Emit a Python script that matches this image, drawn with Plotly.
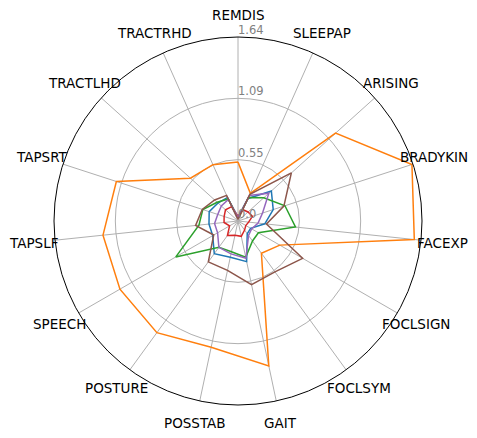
import math
import plotly.graph_objects as go

categories = ["REMDIS", "SLEEPAP", "ARISING", "BRADYKIN", "FACEXP", "FOCLSIGN",
              "FOCLSYM", "GAIT", "POSSTAB", "POSTURE", "SPEECH", "TAPSLF",
              "TAPSRT", "TRACTLHD", "TRACTRHD"]

blue = [0.03, 0.22, 0.40, 0.33, 0.24, 0.13, 0.14, 0.37, 0.33, 0.36, 0.26, 0.26, 0.27, 0.24, 0.23]
orange = [0.525, 0.27, 1.17, 1.63, 1.58, 0.43, 0.355, 1.32, 1.15, 1.23, 1.215, 1.21, 1.14, 0.57, 0.55]
green = [0.03, 0.23, 0.31, 0.44, 0.515, 0.21, 0.22, 0.33, 0.28, 0.29, 0.64, 0.35, 0.33, 0.25, 0.215]
red = [0.04, 0.11, 0.12, 0.135, 0.095, 0.08, 0.10, 0.14, 0.13, 0.16, 0.087, 0.125, 0.13, 0.15, 0.14]
purple = [0.03, 0.25, 0.37, 0.23, 0.18, 0.14, 0.16, 0.34, 0.30, 0.29, 0.21, 0.21, 0.19, 0.20, 0.21]
brown = [0.015, 0.26, 0.64, 0.43, 0.255, 0.665, 0.56, 0.58, 0.45, 0.45, 0.25, 0.38, 0.335, 0.28, 0.25]

series = [blue, orange, green, red, purple, brown]
colors = ["#1f77b4", "#ff7f0e", "#2ca02c", "#d62728", "#9467bd", "#8c564b"]

r_max = 1.64
tick_vals = [0.0, 0.5467, 1.0933, 1.64]
tick_text = ["0.0", "0.55", "1.09", "1.64"]

fig = go.Figure()
for vals, col in zip(series, colors):
    fig.add_trace(go.Scatterpolar(
        r=vals + vals[:1],
        theta=categories + categories[:1],
        mode="lines",
        line=dict(color=col, width=1.5),
        showlegend=False,
        hoverinfo="skip",
    ))

# radial tick labels, above-right of each ring along the first spoke
fig.add_trace(go.Scatterpolar(
    r=tick_vals,
    theta=[categories[0]] * len(tick_vals),
    mode="text",
    text=tick_text,
    textposition="top right",
    textfont=dict(size=11.5, color="#808080", family="DejaVu Sans"),
    cliponaxis=False,
    showlegend=False,
    hoverinfo="skip",
))

# page body has an 8px default margin
OFF = 8
W, H = 477 - OFF, 438 - OFF
cx, cy, R = 238 - OFF, 221 - OFF, 184
label_dist = R * 1.12

# category labels centred just outside the frame (matplotlib style)
annotations = []
n = len(categories)
for i, name in enumerate(categories):
    a = math.radians(90 - 360.0 * i / n)
    px = cx + label_dist * math.cos(a)
    py = cy - label_dist * math.sin(a)
    annotations.append(dict(
        x=px / W, y=1 - py / H, xref="paper", yref="paper",
        text=name, showarrow=False, xanchor="center", yanchor="middle",
        font=dict(size=13.5, color="black", family="DejaVu Sans"),
    ))

fig.update_layout(
    width=W, height=H,
    margin=dict(l=0, r=0, t=0, b=0),
    paper_bgcolor="white",
    plot_bgcolor="white",
    font=dict(family="DejaVu Sans", size=13, color="black"),
    annotations=annotations,
    polar=dict(
        domain=dict(x=[(cx - R) / W, (cx + R) / W],
                    y=[(H - cy - R) / H, (H - cy + R) / H]),
        bgcolor="white",
        angularaxis=dict(
            rotation=90, direction="clockwise",
            categoryorder="array", categoryarray=categories,
            showline=True, linecolor="black", linewidth=1,
            showgrid=True, gridcolor="#b0b0b0", gridwidth=1,
            ticks="", showticklabels=False,
        ),
        radialaxis=dict(
            range=[0, r_max], angle=90,
            tickvals=tick_vals,
            showline=False, ticks="", showticklabels=False,
            showgrid=True, gridcolor="#b0b0b0", gridwidth=1,
        ),
    ),
)

fig.write_html("out.html")
